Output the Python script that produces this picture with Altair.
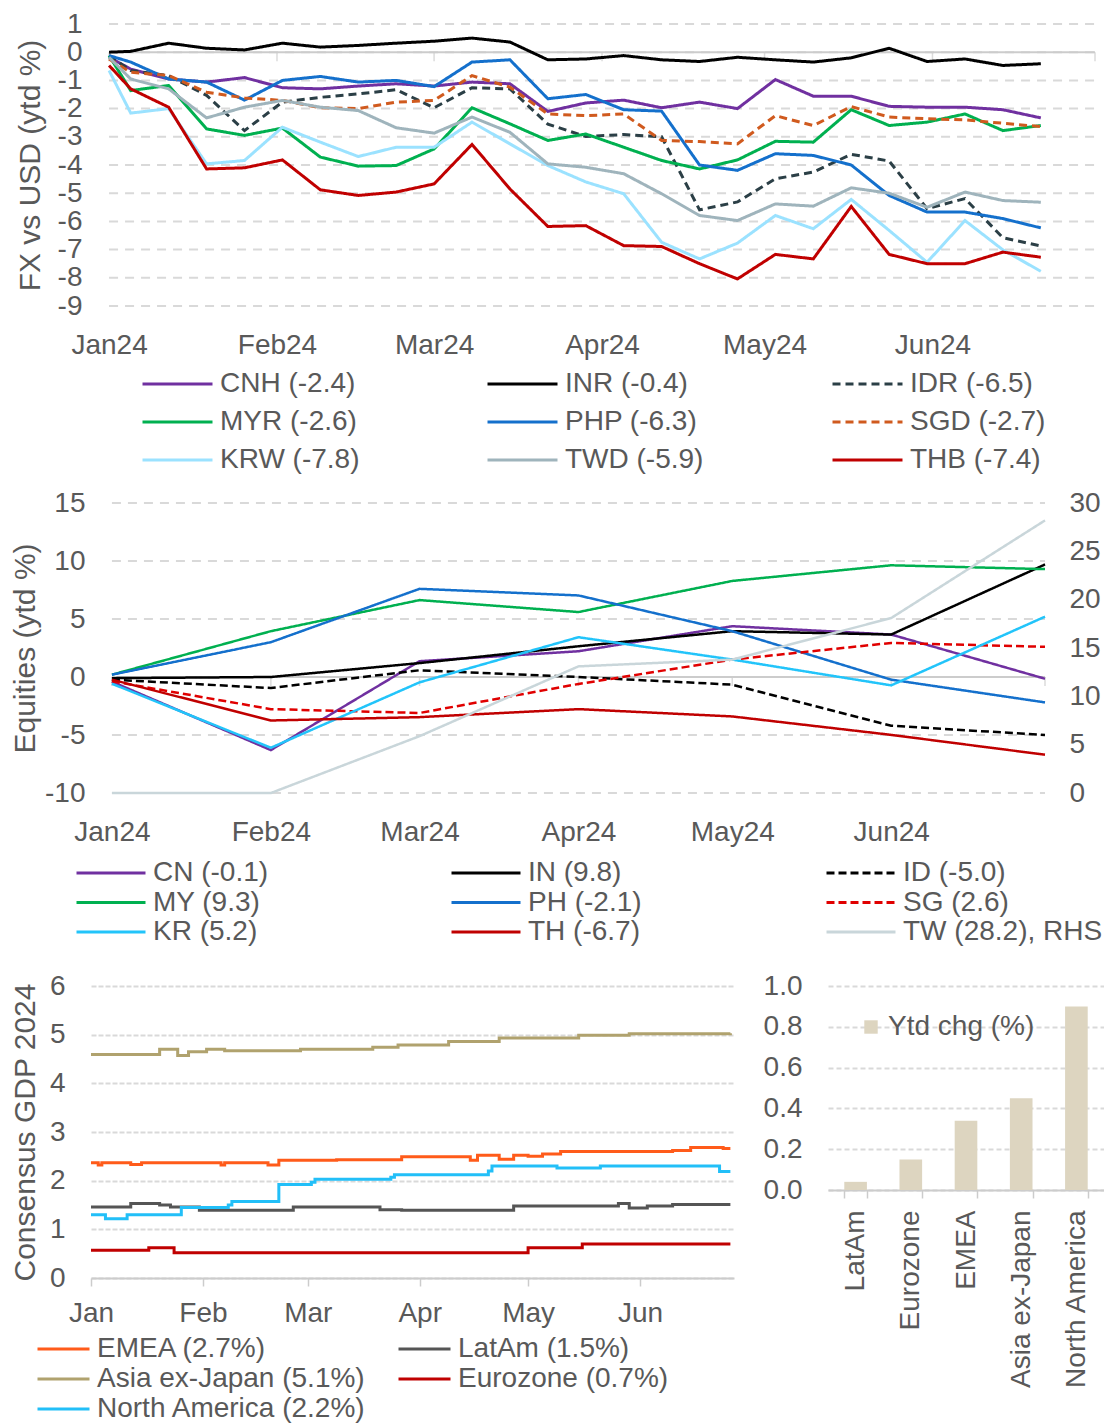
import altair as alt
import pandas as pd

FONT = "Liberation Sans"
TXT = "#595959"
GRIDC = "#d9d9d9"
AXISC = "#cccccc"

# ---------------- FX panel (weekly) ----------------
fx_dates = ["2024-01-01", "2024-01-05", "2024-01-12", "2024-01-19", "2024-01-26",
            "2024-02-02", "2024-02-09", "2024-02-16", "2024-02-23", "2024-03-01",
            "2024-03-08", "2024-03-15", "2024-03-22", "2024-03-29", "2024-04-05",
            "2024-04-12", "2024-04-19", "2024-04-26", "2024-05-03", "2024-05-10",
            "2024-05-17", "2024-05-24", "2024-05-31", "2024-06-07", "2024-06-14",
            "2024-06-21"]
fx_cnh = [-0.18, -0.6, -0.95, -1.06, -0.9, -1.26, -1.3, -1.2, -1.12, -1.2, -1.06, -1.12, -2.1,
          -1.8, -1.7, -1.97, -1.77, -2.0, -0.97, -1.56, -1.56, -1.92, -1.95, -1.95, -2.04, -2.33]
fx_inr = [0.0, 0.03, 0.32, 0.14, 0.08, 0.32, 0.18, 0.24, 0.32, 0.39, 0.5, 0.36, -0.27,
          -0.24, -0.12, -0.27, -0.33, -0.18, -0.27, -0.35, -0.2, 0.14, -0.33, -0.24, -0.47, -0.41]
fx_idr = [-0.12, -0.65, -0.83, -1.53, -2.78, -1.77, -1.6, -1.48, -1.33, -1.97, -1.26, -1.3, -2.55,
          -2.99, -2.92, -3.0, -5.59, -5.31, -4.49, -4.25, -3.62, -3.86, -5.55, -5.19, -6.58, -6.87]
fx_myr = [-0.12, -1.36, -1.18, -2.72, -2.95, -2.69, -3.72, -4.04, -4.02, -3.43, -1.97, -2.54, -3.13,
          -2.9, -3.37, -3.84, -4.14, -3.82, -3.16, -3.19, -2.04, -2.6, -2.48, -2.19, -2.78, -2.6]
fx_php = [-0.12, -0.35, -0.95, -1.06, -1.7, -1.0, -0.86, -1.06, -1.0, -1.22, -0.35, -0.27, -1.65,
          -1.5, -2.04, -2.09, -4.0, -4.19, -3.6, -3.66, -4.0, -5.08, -5.67, -5.67, -5.9, -6.23]
fx_sgd = [-0.24, -0.71, -0.83, -1.42, -1.62, -1.71, -1.97, -2.0, -1.77, -1.71, -0.83, -1.24, -2.19,
          -2.25, -2.19, -3.13, -3.17, -3.25, -2.25, -2.6, -1.93, -2.3, -2.36, -2.4, -2.52, -2.64]
fx_krw = [-0.65, -2.16, -2.0, -3.96, -3.84, -2.66, -3.19, -3.7, -3.37, -3.37, -2.48, -3.25, -4.02,
          -4.6, -5.02, -6.74, -7.33, -6.77, -5.79, -6.26, -5.22, -6.32, -7.45, -5.97, -7.01, -7.77]
fx_twd = [-0.18, -0.95, -1.3, -2.33, -1.95, -1.71, -1.95, -2.07, -2.68, -2.87, -2.3, -2.84, -3.96,
          -4.08, -4.31, -5.02, -5.79, -5.97, -5.38, -5.46, -4.81, -5.0, -5.5, -4.96, -5.26, -5.32]
fx_thb = [-0.47, -1.3, -1.95, -4.14, -4.1, -3.82, -4.88, -5.08, -4.96, -4.67, -3.27, -4.85, -6.18,
          -6.15, -6.86, -6.89, -7.5, -8.04, -7.17, -7.33, -5.47, -7.17, -7.5, -7.5, -7.09, -7.27]
fx_labels = ["CNH (-2.4)", "INR (-0.4)", "IDR (-6.5)", "MYR (-2.6)", "PHP (-6.3)",
             "SGD (-2.7)", "KRW (-7.8)", "TWD (-5.9)", "THB (-7.4)"]
fx_values = [fx_cnh, fx_inr, fx_idr, fx_myr, fx_php, fx_sgd, fx_krw, fx_twd, fx_thb]
fx_colors = ["#7030a0", "#000000", "#2b3f46", "#00b050", "#1470cc",
             "#d05a1e", "#9be2ff", "#9fb4bc", "#c00000"]
fx_dashes = [[1, 0], [1, 0], [8, 5], [1, 0], [1, 0], [8, 5], [1, 0], [1, 0], [1, 0]]
fx_grid_values = [-9, -8, -7, -6, -5, -4, -3, -2, -1, 0, 1]

# ---------------- Equities panel (monthly) ----------------
eq_dates = ["2024-01-01", "2024-02-01", "2024-03-01", "2024-04-01",
            "2024-05-01", "2024-06-01", "2024-07-01"]
eq_cn = [-0.4, -6.3, 1.36, 2.22, 4.38, 3.66, -0.15]
eq_in = [-0.1, 0.0, 1.2, 2.65, 3.95, 3.66, 9.7]
eq_id = [-0.23, -0.95, 0.58, 0.0, -0.66, -4.2, -5.0]
eq_my = [0.2, 3.95, 6.63, 5.6, 8.28, 9.63, 9.3]
eq_ph = [0.2, 3.0, 7.6, 7.03, 3.95, -0.23, -2.19]
eq_sg = [-0.37, -2.77, -3.1, -0.6, 1.5, 2.94, 2.6]
eq_kr = [-0.58, -6.1, -0.46, 3.43, 1.5, -0.72, 5.2]
eq_th = [-0.23, -3.75, -3.46, -2.77, -3.4, -4.99, -6.7]
eq_tw_rhs = [0.0, 0.0, 5.88, 13.1, 13.8, 18.1, 28.2]
eq_labels = ["CN (-0.1)", "IN (9.8)", "ID (-5.0)", "MY (9.3)", "PH (-2.1)",
             "SG (2.6)", "KR (5.2)", "TH (-6.7)", "TW (28.2), RHS"]
eq_values = [eq_cn, eq_in, eq_id, eq_my, eq_ph, eq_sg, eq_kr, eq_th]
eq_colors = ["#7030a0", "#000000", "#000000", "#00b050", "#1470cc",
             "#e00000", "#22c4fa", "#c00000", "#c9d6da"]
eq_dashes = [[1, 0], [1, 0], [8, 4], [1, 0], [1, 0], [8, 4], [1, 0], [1, 0], [1, 0]]
eq_grid_values = [-10, -5, 0, 5, 10, 15]
eq_rhs_ticks = [0, 5, 10, 15, 20, 25, 30]

# month boundaries marked on the zero lines
zero_tick_dates = ["2024-01-01", "2024-02-01", "2024-03-01", "2024-04-01",
                   "2024-05-01", "2024-06-01", "2024-07-01"]

# ---------------- Consensus GDP panel (step changes) ----------------
gdp_emea_d = ["2024-01-01", "2024-01-03", "2024-01-04", "2024-01-12", "2024-01-15", "2024-02-06",
              "2024-02-07", "2024-02-19", "2024-02-22", "2024-03-09", "2024-03-27", "2024-04-15",
              "2024-04-17", "2024-04-23", "2024-04-27", "2024-05-01", "2024-05-05", "2024-05-10",
              "2024-06-10", "2024-06-15", "2024-06-24", "2024-06-26"]
gdp_emea_v = [2.37, 2.32, 2.37, 2.33, 2.37, 2.32, 2.37, 2.32, 2.42, 2.43, 2.49, 2.42,
              2.52, 2.44, 2.52, 2.50, 2.55, 2.60, 2.62, 2.68, 2.66, 2.66]
gdp_latam_d = ["2024-01-01", "2024-01-12", "2024-01-20", "2024-01-23", "2024-01-31", "2024-02-26",
               "2024-03-21", "2024-03-27", "2024-04-27", "2024-05-26", "2024-05-29", "2024-06-03",
               "2024-06-10", "2024-06-26"]
gdp_latam_v = [1.46, 1.53, 1.50, 1.46, 1.39, 1.46, 1.40, 1.39, 1.48, 1.53, 1.44, 1.48, 1.51, 1.51]
gdp_asia_d = ["2024-01-01", "2024-01-20", "2024-01-25", "2024-01-28", "2024-02-02", "2024-02-07",
              "2024-02-28", "2024-03-19", "2024-03-26", "2024-04-09", "2024-04-23", "2024-05-15",
              "2024-05-29", "2024-06-26"]
gdp_asia_v = [4.59, 4.70, 4.57, 4.65, 4.70, 4.67, 4.70, 4.74, 4.79, 4.86, 4.93, 4.99, 5.02, 5.03]
gdp_ez_d = ["2024-01-01", "2024-01-17", "2024-01-24", "2024-05-01", "2024-05-16", "2024-06-26"]
gdp_ez_v = [0.57, 0.62, 0.52, 0.62, 0.70, 0.70]
gdp_na_d = ["2024-01-01", "2024-01-05", "2024-01-11", "2024-01-26", "2024-02-08", "2024-02-09",
            "2024-02-22", "2024-03-02", "2024-03-03", "2024-03-24", "2024-03-25", "2024-04-20",
            "2024-04-21", "2024-05-09", "2024-05-21", "2024-06-23", "2024-06-26"]
gdp_na_v = [1.30, 1.22, 1.30, 1.45, 1.50, 1.57, 1.92, 1.97, 2.03, 2.07, 2.12, 2.20,
            2.30, 2.26, 2.30, 2.19, 2.19]
gdp_labels = ["EMEA (2.7%)", "LatAm (1.5%)", "Asia ex-Japan (5.1%)",
              "Eurozone (0.7%)", "North America (2.2%)"]
gdp_series = [(gdp_emea_d, gdp_emea_v), (gdp_latam_d, gdp_latam_v), (gdp_asia_d, gdp_asia_v),
              (gdp_ez_d, gdp_ez_v), (gdp_na_d, gdp_na_v)]
gdp_colors = ["#ff5b1a", "#555555", "#b0a26e", "#c00000", "#22bff8"]

# ---------------- Ytd change bars ----------------
bar_regions = ["LatAm", "Eurozone", "EMEA", "Asia ex-Japan", "North America"]
bar_values = [0.04, 0.15, 0.34, 0.45, 0.9]
bar_legend_label = "Ytd chg (%)"
bar_color = "#ddd5c0"

# ---------------- build tables ----------------
def long_table(dates, labels, values):
    rows = []
    for lab, vals in zip(labels, values):
        for d, v in zip(dates, vals):
            rows.append({"date": d, "value": v, "series": lab})
    df = pd.DataFrame(rows)
    df["date"] = pd.to_datetime(df["date"])
    return df

def grid_table(values):
    df = pd.DataFrame({"value": values})
    df["x0"] = pd.to_datetime("2024-01-01")
    df["x1"] = pd.to_datetime("2024-07-01")
    return df

fx_df = long_table(fx_dates, fx_labels, fx_values)
eq_df = long_table(eq_dates, eq_labels[:8], eq_values)
tw_df = long_table(eq_dates, eq_labels[8:], [eq_tw_rhs])
ztick_df = pd.DataFrame({"date": pd.to_datetime(zero_tick_dates), "value": 0})
gdp_rows = []
for lab, (ds, vs) in zip(gdp_labels, gdp_series):
    for d, v in zip(ds, vs):
        gdp_rows.append({"date": d, "value": v, "series": lab})
gdp_df = pd.DataFrame(gdp_rows)
gdp_df["date"] = pd.to_datetime(gdp_df["date"])
bar_df = pd.DataFrame({"region": bar_regions, "chg": bar_values, "key": bar_legend_label})

def col_major(items, ncols):
    # reorder so that a column-major legend reads row by row
    nrows = -(-len(items) // ncols)
    out = []
    for c in range(ncols):
        for r in range(nrows):
            i = r * ncols + c
            if i < len(items):
                out.append(items[i])
    return out

def dt(m, d=1, y=2024, h=0):
    return alt.DateTime(year=y, month=m, date=d, hours=h)

month_ticks = [dt(m) for m in range(1, 7)]

def x_axis(fmt, pad, **kw):
    return alt.Axis(values=month_ticks, format=fmt, labelFontSize=28, labelPadding=pad,
                    labelFlush=False, grid=False, title=None, labelColor=TXT, **kw)

def line_legend(x, y, sym, off, colpad, rowpad, cols):
    return alt.Legend(title=None, orient="none", legendX=x, legendY=y, columns=cols,
                      symbolType="stroke", symbolSize=sym * sym, symbolStrokeWidth=3,
                      clipHeight=28, labelFontSize=28, labelColor=TXT, labelLimit=500,
                      labelOffset=off, columnPadding=colpad, rowPadding=rowpad, gridAlign="all")

HYPHEN = "'' + datum.value"

# ---------------- FX chart ----------------
fx_leg = line_legend(50, 346, 70, 6, 126, 10, 3)
fx_xscale = alt.Scale(domain=[dt(12, 28, 2023, 16), dt(7)])
fx_xaxis = x_axis("%b%y", 25, domain=False, ticks=False)
fx_yscale = alt.Scale(domain=[-9, 1])
fx_yaxis = alt.Axis(values=fx_grid_values, labelExpr=HYPHEN, grid=False, domain=False, ticks=False,
                    labelFontSize=28, labelPadding=9, title="FX vs USD (ytd %)", titleFontSize=30,
                    titlePadding=12)
fx_grid = alt.Chart(grid_table(fx_grid_values)).mark_rule(
    color=GRIDC, strokeWidth=2, strokeDash=[9, 7]).encode(
    x=alt.X("x0:T", scale=fx_xscale, axis=fx_xaxis), x2="x1:T",
    y=alt.Y("value:Q", scale=fx_yscale, axis=fx_yaxis))
fx_zero = alt.Chart(grid_table([0])).mark_rule(color=AXISC, strokeWidth=2).encode(
    x=alt.X("x0:T", scale=fx_xscale, axis=fx_xaxis), x2="x1:T",
    y=alt.Y("value:Q", scale=fx_yscale, axis=fx_yaxis))
fx_zticks = alt.Chart(ztick_df).mark_tick(
    orient="vertical", size=9, thickness=1.5, yOffset=4.5, color=AXISC).encode(
    x=alt.X("date:T", scale=fx_xscale, axis=fx_xaxis),
    y=alt.Y("value:Q", scale=fx_yscale, axis=fx_yaxis))
fx_order = col_major(fx_labels, 3)
fx_cmap = dict(zip(fx_labels, fx_colors))
fx_dmap = dict(zip(fx_labels, fx_dashes))
fx_lines = alt.Chart(fx_df).mark_line(strokeWidth=3).encode(
    x=alt.X("date:T", scale=fx_xscale, axis=fx_xaxis),
    y=alt.Y("value:Q", scale=fx_yscale, axis=fx_yaxis),
    color=alt.Color("series:N", scale=alt.Scale(domain=fx_order, range=[fx_cmap[k] for k in fx_order]),
                    legend=fx_leg),
    strokeDash=alt.StrokeDash("series:N", scale=alt.Scale(domain=fx_order, range=[fx_dmap[k] for k in fx_order]),
                              legend=fx_leg),
)
fx_chart = alt.layer(fx_grid, fx_zero, fx_zticks, fx_lines).properties(width=1004, height=282)

# ---------------- Equities chart ----------------
eq_leg = line_legend(-16, 356, 69, 6, 97, 1.5, 3)
eq_xscale = alt.Scale(domain=[dt(12, 27, 2023, 22), dt(7)])
eq_xaxis = x_axis("%b%y", 25, domain=False, ticks=False)
eq_order = col_major(eq_labels, 3)
eq_cmap = dict(zip(eq_labels, eq_colors))
eq_dmap = dict(zip(eq_labels, eq_dashes))
eq_color = alt.Color("series:N", scale=alt.Scale(domain=eq_order, range=[eq_cmap[k] for k in eq_order]),
                     legend=eq_leg)
eq_dash = alt.StrokeDash("series:N", scale=alt.Scale(domain=eq_order, range=[eq_dmap[k] for k in eq_order]),
                         legend=eq_leg)
eq_lscale = alt.Scale(domain=[-10, 15])
eq_laxis = alt.Axis(values=eq_grid_values, labelExpr=HYPHEN, grid=False, domain=False, ticks=False,
                    labelFontSize=28, labelPadding=6, title="Equities (ytd %)", titleFontSize=30,
                    titlePadding=4.5, orient="left")
eq_grid = alt.Chart(grid_table(eq_grid_values)).mark_rule(
    color=GRIDC, strokeWidth=2, strokeDash=[9, 7]).encode(
    x=alt.X("x0:T", scale=eq_xscale, axis=eq_xaxis), x2="x1:T",
    y=alt.Y("value:Q", scale=eq_lscale, axis=eq_laxis))
eq_zero = alt.Chart(grid_table([0])).mark_rule(color=AXISC, strokeWidth=2).encode(
    x=alt.X("x0:T", scale=eq_xscale, axis=eq_xaxis), x2="x1:T",
    y=alt.Y("value:Q", scale=eq_lscale, axis=eq_laxis))
eq_zticks = alt.Chart(ztick_df).mark_tick(
    orient="vertical", size=9, thickness=1.5, yOffset=4.5, color=AXISC).encode(
    x=alt.X("date:T", scale=eq_xscale, axis=eq_xaxis),
    y=alt.Y("value:Q", scale=eq_lscale, axis=eq_laxis))
eq_lines = alt.Chart(eq_df).mark_line(strokeWidth=2.5).encode(
    x=alt.X("date:T", scale=eq_xscale, axis=eq_xaxis),
    y=alt.Y("value:Q", scale=eq_lscale, axis=eq_laxis),
    color=eq_color, strokeDash=eq_dash,
)
eq_tw = alt.Chart(tw_df).mark_line(strokeWidth=2.5).encode(
    x=alt.X("date:T", scale=eq_xscale, axis=eq_xaxis),
    y=alt.Y("value:Q", scale=alt.Scale(domain=[0, 30]),
            axis=alt.Axis(values=eq_rhs_ticks, grid=False, domain=False, ticks=False,
                          labelFontSize=28, labelPadding=24, title=None, orient="right")),
    color=eq_color, strokeDash=eq_dash,
)
eq_chart = alt.layer(alt.layer(eq_grid, eq_zero, eq_zticks, eq_lines), eq_tw).resolve_scale(
    y="independent").properties(width=954, height=290)

# ---------------- GDP chart ----------------
gdp_leg = line_legend(-55, 349, 52, 6, 30, 2, 2)
gdp_order = col_major(gdp_labels, 2)
gdp_cmap = dict(zip(gdp_labels, gdp_colors))
gdp_chart = alt.Chart(gdp_df).mark_line(strokeWidth=3, interpolate="step-after").encode(
    x=alt.X("date:T", scale=alt.Scale(domain=[dt(1), dt(6, 27)]),
            axis=x_axis("%b", 13, domain=True, domainColor=AXISC, domainWidth=2, ticks=True,
                        tickColor=AXISC, tickSize=8, tickWidth=1.5)),
    y=alt.Y("value:Q", scale=alt.Scale(domain=[0, 6]),
            axis=alt.Axis(values=[0, 1, 2, 3, 4, 5, 6], grid=True, gridDash=[5, 2], gridColor=GRIDC,
                          gridWidth=2, domain=False, ticks=False, labelFontSize=28, labelPadding=26,
                          title="Consensus GDP 2024", titleFontSize=30, titlePadding=9)),
    color=alt.Color("series:N", scale=alt.Scale(domain=gdp_order, range=[gdp_cmap[k] for k in gdp_order]),
                    legend=gdp_leg),
).properties(width=643, height=292)

# ---------------- Bar chart ----------------
bar_chart = alt.Chart(bar_df).mark_bar().encode(
    x=alt.X("region:N", sort=bar_regions, scale=alt.Scale(paddingInner=0.59, paddingOuter=0.295),
            axis=alt.Axis(labelAngle=-90, labelFontSize=28, labelColor=TXT, labelPadding=12,
                          domain=True, domainColor=AXISC, domainWidth=2, ticks=True, tickBand="extent",
                          tickColor=AXISC, tickSize=8, tickWidth=1.5, title=None, labelLimit=400)),
    y=alt.Y("chg:Q", scale=alt.Scale(domain=[0, 1]),
            axis=alt.Axis(values=[0, 0.2, 0.4, 0.6, 0.8, 1.0], format=".1f", grid=True,
                          gridDash=[5, 3], gridColor=GRIDC, gridWidth=2, domain=False, ticks=False,
                          labelFontSize=28, labelPadding=26, title=None)),
    color=alt.Color("key:N", scale=alt.Scale(range=[bar_color]),
                    legend=alt.Legend(title=None, orient="none", legendX=29, legendY=27,
                                      symbolType="square", symbolSize=180, labelFontSize=28,
                                      labelColor=TXT, labelOffset=3, clipHeight=28)),
).properties(width=276, height=204)

row3 = alt.hconcat(gdp_chart, bar_chart, spacing=26).resolve_scale(color="independent")
lower = alt.concat(eq_chart, row3, columns=1, spacing=26).resolve_scale(
    color="independent", strokeDash="independent")
chart = alt.concat(fx_chart, lower, columns=1, spacing=15).resolve_scale(
    color="independent", strokeDash="independent").properties(
    padding={"left": 2, "top": 2, "right": 0, "bottom": 0}
).configure(font=FONT, background="white").configure_view(stroke=None).configure_axis(
    labelFont=FONT, titleFont=FONT, labelColor=TXT, titleColor=TXT, titleFontWeight="normal"
).configure_legend(labelFont=FONT, labelColor=TXT)

chart.save("out.html", embed_options={"renderer": "svg", "actions": False})
